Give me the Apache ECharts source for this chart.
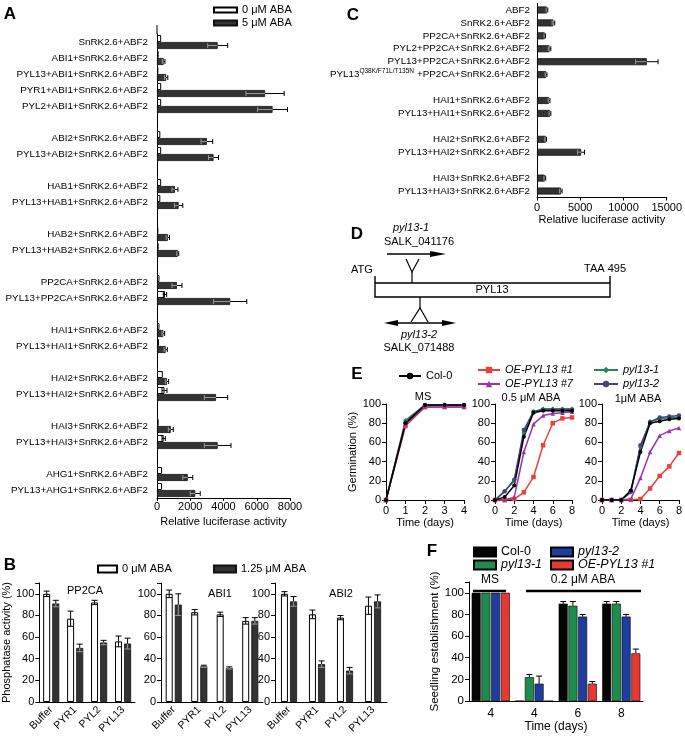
<!DOCTYPE html>
<html><head><meta charset="utf-8">
<script src="https://cdn.jsdelivr.net/npm/echarts@6/dist/echarts.min.js"></script>
<style>html,body{margin:0;padding:0;background:#fff}#c{width:685px;height:738px}</style>
</head><body><div id="c"></div>
<script>
const FONT = 'Liberation Sans, Arial, Helvetica, sans-serif';

// ---------- Panel A ----------
const aCats = ['SnRK2.6+ABF2','ABI1+SnRK2.6+ABF2','PYL13+ABI1+SnRK2.6+ABF2','PYR1+ABI1+SnRK2.6+ABF2','PYL2+ABI1+SnRK2.6+ABF2','',
  'ABI2+SnRK2.6+ABF2','PYL13+ABI2+SnRK2.6+ABF2','',
  'HAB1+SnRK2.6+ABF2','PYL13+HAB1+SnRK2.6+ABF2','',
  'HAB2+SnRK2.6+ABF2','PYL13+HAB2+SnRK2.6+ABF2','',
  'PP2CA+SnRK2.6+ABF2','PYL13+PP2CA+SnRK2.6+ABF2','',
  'HAI1+SnRK2.6+ABF2','PYL13+HAI1+SnRK2.6+ABF2','',
  'HAI2+SnRK2.6+ABF2','PYL13+HAI2+SnRK2.6+ABF2','',
  'HAI3+SnRK2.6+ABF2','PYL13+HAI3+SnRK2.6+ABF2','',
  'AHG1+SnRK2.6+ABF2','PYL13+AHG1+SnRK2.6+ABF2'];
const aWhite    = [250,100,80,250,250,null,200,250,null,250,200,null,80,100,null,150,480,null,150,120,null,350,450,null,100,400,null,300,300];
const aWhiteErr = [0,0,0,0,0,null,0,0,null,0,0,null,0,0,null,0,100,null,0,0,null,0,150,null,0,100,null,0,0];
const aDark     = [3650,400,550,6500,6950,null,3000,3400,null,1080,1300,null,650,1250,null,1200,4400,null,380,520,null,600,3550,null,830,3650,null,1850,2300];
const aDarkErr  = [600,80,100,1150,900,null,350,300,null,180,250,null,100,60,null,300,1000,null,80,100,null,100,700,null,150,800,null,300,300];
const aTicks = [0,2000,4000,6000,8000];

// ---------- Panel C ----------
const cCats = ['ABF2','SnRK2.6+ABF2','PP2CA+SnRK2.6+ABF2','PYL2+PP2CA+SnRK2.6+ABF2','PYL13+PP2CA+SnRK2.6+ABF2',
  'PYL13|Q38K/F71L/T135N|+PP2CA+SnRK2.6+ABF2','',
  'HAI1+SnRK2.6+ABF2','PYL13+HAI1+SnRK2.6+ABF2','',
  'HAI2+SnRK2.6+ABF2','PYL13+HAI2+SnRK2.6+ABF2','',
  'HAI3+SnRK2.6+ABF2','PYL13+HAI3+SnRK2.6+ABF2'];
const cVals = [1150,1900,900,1450,12700,1050,null,1400,1500,null,1000,5100,null,900,2750];
const cErr  = [100,150,80,150,1300,100,null,100,100,null,100,400,null,100,150];
const cTicks = [0,5000,10000,15000];

// ---------- Panel B ----------
const bCats = ['Buffer','PYR1','PYL2','PYL13'];
const bTitles = ['PP2CA','ABI1','ABI2'];
const bPP2CA0 = [100,77,92,56],  bPP2CA0Err = [2.5,7,2,5];
const bPP2CA1 = [91,50,55,54],   bPP2CA1Err = [3,3.5,2,5];
const bABI10  = [100,83,81,75],  bABI10Err  = [3.5,2.5,2,3];
const bABI11  = [90,33,31.5,75], bABI11Err  = [10,1,1,3];
const bABI20  = [100,81,78,89],  bABI20Err  = [2,4,2,8];
const bABI21  = [93,35,29,93],   bABI21Err  = [4.5,3,3,6];

// ---------- Panel E ----------
const eDaysMS = [0,1,2,3,4];
const eDaysABA = [0,1,2,3,4,5,6,7,8];
const eNames = ['OE-PYL13 #1','OE-PYL13 #7','pyl13-1','pyl13-2','Col-0'];
const eMS  = { 'Col-0':[0,80,99,99,99], 'OE-PYL13 #1':[0,77,97,97,97], 'OE-PYL13 #7':[0,79,97,97,97], 'pyl13-1':[0,83,99,99,99], 'pyl13-2':[0,81,99,99,99] };
const eA05 = { 'Col-0':[0,3,15,66,91,93,93,93,93], 'OE-PYL13 #1':[0,0,1,8,24,57,80,85,86], 'OE-PYL13 #7':[0,0,3,50,79,88,90,91,92], 'pyl13-1':[0,9,20,70,92,95,95,95,95], 'pyl13-2':[0,9,21,73,92,94,94,94,94] };
const eA1  = { 'Col-0':[0,0,0,10,50,80,82,84,85], 'OE-PYL13 #1':[0,0,0,0,1,12,25,35,49], 'OE-PYL13 #7':[0,0,0,1,23,50,67,72,75], 'pyl13-1':[0,0,0,8,55,82,84,86,86], 'pyl13-2':[0,0,0,9,57,81,86,87,88] };

// ---------- Panel F ----------
const fGroups = ['MS 4','ABA 4','ABA 6','ABA 8'];
const fTickLabels = ['4','4','6','8'];
const fNames = ['Col-0','pyl13-1','pyl13-2','OE-PYL13 #1'];
const fVals = { 'Col-0':[100,0,90,90], 'pyl13-1':[100,22,88,90], 'pyl13-2':[100,16,78,78], 'OE-PYL13 #1':[100,0,16,44] };
const fErrs = { 'Col-0':[0,0,2,2], 'pyl13-1':[0,2.5,4,2], 'pyl13-2':[0,7,2,2], 'OE-PYL13 #1':[0,0,2,4] };

// ================= styles =================
const eStyle = {
  'Col-0':       {color:'#000000', symbol:'circle',   size:4},
  'OE-PYL13 #1': {color:'#e8413c', symbol:'rect',     size:4.5},
  'OE-PYL13 #7': {color:'#9a32ad', symbol:'triangle', size:4.5},
  'pyl13-1':     {color:'#1f8a52', symbol:'diamond',  size:4.5},
  'pyl13-2':     {color:'#44457e', symbol:'circle',   size:4.5}
};
const fColor = {'Col-0':'#050505','pyl13-1':'#1e8c4e','pyl13-2':'#1f3d9c','OE-PYL13 #1':'#e53a33'};

const axLine = {lineStyle:{color:'#000', width:1}};
const axTick = {lineStyle:{color:'#000', width:1}};
const plain = v => String(v);
function lab(extra){ return Object.assign({color:'#000', fontFamily:FONT, fontSize:10.5}, extra||{}); }

function L(x1,y1,x2,y2,col,w){ return {type:'line', shape:{x1,y1,x2,y2}, style:{stroke:col, lineWidth:w||1}}; }
function errH(off, inner){
  return function(params, api){
    const cat = api.value(0), v = api.value(1), e = api.value(2);
    if (!e) return;
    const lo = api.coord([v-e, cat]), mid = api.coord([v, cat]), hi = api.coord([v+e, cat]);
    const y = mid[1] + off, c = 2.5;
    return {type:'group', children:[L(lo[0],y,mid[0],y,inner), L(mid[0],y,hi[0],y,'#000'), L(lo[0],y-c,lo[0],y+c,inner), L(hi[0],y-c,hi[0],y+c,'#000')]};
  };
}
function errV(off, inner, cap){
  return function(params, api){
    const cat = api.value(0), v = api.value(1), e = api.value(2);
    if (!e) return;
    const lo = api.coord([cat, v-e]), mid = api.coord([cat, v]), hi = api.coord([cat, v+e]);
    const x = mid[0] + off, c = cap || 2.5;
    return {type:'group', children:[L(x,lo[1],x,mid[1],inner), L(x,mid[1],x,hi[1],'#000'), L(x-c,lo[1],x+c,lo[1],inner), L(x-c,hi[1],x+c,hi[1],'#000')]};
  };
}
function errData(vals, errs){ return vals.map((v,i)=> v==null ? null : [i, v, errs[i]]).filter(d=>d); }

const grids = [], xAxes = [], yAxes = [], series = [];

// ---- A (index 0)
grids.push({left:157, top:34, width:133, height:464});
xAxes.push({gridIndex:0, type:'value', min:aTicks[0], max:aTicks[aTicks.length-1], interval:2000,
  axisLine:Object.assign({show:true},axLine), axisTick:Object.assign({show:true,length:3},axTick), splitLine:{show:false},
  axisLabel:lab({fontSize:11, margin:3, formatter:plain}),
  name:'Relative luciferase activity', nameLocation:'middle', nameGap:17, nameTextStyle:{fontFamily:FONT, fontSize:11, color:'#000'}});
yAxes.push({gridIndex:0, type:'category', data:aCats, inverse:true,
  axisLine:axLine, axisTick:Object.assign({alignWithLabel:true, length:5}, axTick), axisLabel:lab({fontSize:9.8, margin:9, interval:0})});
series.push({name:'A|0 μM ABA', type:'bar', xAxisIndex:0, yAxisIndex:0, data:aWhite, barWidth:7, barGap:'0%',
  itemStyle:{color:'#fff', borderColor:'#000', borderWidth:1}});
series.push({name:'A|5 μM ABA', type:'bar', xAxisIndex:0, yAxisIndex:0, data:aDark, barWidth:7, barGap:'0%',
  itemStyle:{color:'#333', borderColor:'#111', borderWidth:0.8}});
series.push({type:'custom', xAxisIndex:0, yAxisIndex:0, encode:{x:1, y:0}, data:errData(aWhite,aWhiteErr), renderItem:errH(-3.5,'#000'), z:5});
series.push({type:'custom', xAxisIndex:0, yAxisIndex:0, encode:{x:1, y:0}, data:errData(aDark,aDarkErr), renderItem:errH(3.5,'#999'), z:5});

// ---- C (index 1)
grids.push({left:537, top:3.5, width:131, height:194});
xAxes.push({gridIndex:1, type:'value', min:cTicks[0], max:cTicks[cTicks.length-1], interval:5000,
  axisLine:Object.assign({show:true},axLine), axisTick:Object.assign({show:true,length:3},axTick), splitLine:{show:false},
  axisLabel:lab({fontSize:11, margin:5, formatter:plain}),
  name:'Relative luciferase activity', nameLocation:'middle', nameGap:16, nameTextStyle:{fontFamily:FONT, fontSize:11, color:'#000'}});
yAxes.push({gridIndex:1, type:'category', data:cCats, inverse:true,
  axisLine:axLine, axisTick:Object.assign({alignWithLabel:true, length:4}, axTick),
  axisLabel:lab({fontSize:9.8, margin:7, interval:0, overflow:'none', width:400,
    formatter: v => { const p = v.split('|'); return p.length===3 ? '{n|'+p[0]+'}{s|'+p[1]+'}{n|'+p[2]+'}' : v; },
    rich:{ n:{fontSize:9.8, fontFamily:FONT, color:'#000'}, s:{fontSize:6.5, fontFamily:FONT, color:'#000', padding:[0,3,6,0]} } })});
series.push({name:'C|vals', type:'bar', xAxisIndex:1, yAxisIndex:1, data:cVals, barWidth:7,
  itemStyle:{color:'#333', borderColor:'#111', borderWidth:0.8}});
series.push({type:'custom', xAxisIndex:1, yAxisIndex:1, encode:{x:1, y:0}, data:errData(cVals,cErr), renderItem:errH(0,'#999'), z:5});

// ---- B (index 2,3,4)
const bLefts = [39, 161, 275], bWidths = [96, 102, 112];
const bData = [[bPP2CA0,bPP2CA0Err,bPP2CA1,bPP2CA1Err],[bABI10,bABI10Err,bABI11,bABI11Err],[bABI20,bABI20Err,bABI21,bABI21Err]];
for (let k=0;k<3;k++){
  const gi = 2+k;
  grids.push({left:bLefts[k], top:583, width:bWidths[k], height:119});
  xAxes.push({gridIndex:gi, type:'category', data:bCats, axisLine:axLine,
    axisTick:Object.assign({alignWithLabel:true, length:4}, axTick), axisLabel:lab({rotate:45, margin:6, interval:0})});
  yAxes.push(Object.assign({gridIndex:gi, type:'value', min:0, max:110, interval:20,
    axisLine:Object.assign({show:true},axLine), axisTick:Object.assign({show:true,length:4},axTick), splitLine:{show:false},
    axisLabel:lab({fontSize:11, margin:5, formatter: v => v>100 ? '' : String(v)})},
    k===0 ? {name:'Phosphatase activity (%)', nameLocation:'middle', nameGap:21, nameTextStyle:{fontFamily:FONT, fontSize:11, color:'#000'}} : {}));
  const [w, we, d, de] = bData[k];
  series.push({name:'B|0 μM ABA', type:'bar', xAxisIndex:gi, yAxisIndex:gi, data:w, barWidth:7, barGap:'30%',
    itemStyle:{color:'#fff', borderColor:'#000', borderWidth:1}});
  series.push({name:'B|1.25 μM ABA', type:'bar', xAxisIndex:gi, yAxisIndex:gi, data:d, barWidth:7, barGap:'30%',
    itemStyle:{color:'#333', borderColor:'#111', borderWidth:0.8}});
  series.push({type:'custom', xAxisIndex:gi, yAxisIndex:gi, encode:{x:0,y:1}, data:errData(w,we), renderItem:errV(-4.55,'#000',3), z:5});
  series.push({type:'custom', xAxisIndex:gi, yAxisIndex:gi, encode:{x:0,y:1}, data:errData(d,de), renderItem:errV(4.55,'#999',3), z:5});
}

// ---- E (index 5,6,7)
const eSets = [[eDaysMS, eMS, 4, 1], [eDaysABA, eA05, 8, 2], [eDaysABA, eA1, 8, 2]];
const eLefts = [386, 495, 602], eWidths = [78, 77, 78];
for (let k=0;k<3;k++){
  const gi = 5+k;
  const [days, set, xmax, xint] = eSets[k];
  grids.push({left:eLefts[k], top:404, width:eWidths[k], height:96});
  xAxes.push({gridIndex:gi, type:'value', min:0, max:xmax, interval:xint,
    axisLine:Object.assign({show:true},axLine), axisTick:Object.assign({show:true,length:4},axTick), splitLine:{show:false},
    axisLabel:lab({fontSize:11, margin:5}),
    name:'Time (days)', nameLocation:'middle', nameGap:17, nameTextStyle:{fontFamily:FONT, fontSize:11, color:'#000'}});
  yAxes.push(Object.assign({gridIndex:gi, type:'value', min:0, max:100, interval:20,
    axisLine:Object.assign({show:true},axLine), axisTick:Object.assign({show:true,length:4},axTick), splitLine:{show:false},
    axisLabel:lab({fontSize:11, margin:5})},
    k===0 ? {name:'Germination (%)', nameLocation:'middle', nameGap:26, nameTextStyle:{fontFamily:FONT, fontSize:11, color:'#000'}} : {}));
  eNames.forEach(n => {
    const st = eStyle[n];
    series.push({name:'E|'+n, type:'line', xAxisIndex:gi, yAxisIndex:gi, data:days.map((d,i)=>[d, set[n][i]]),
      symbol:st.symbol, symbolSize:st.size, color:st.color, lineStyle:{color:st.color, width:1.5},
      itemStyle:{color:st.color}});
  });
}

// ---- F (index 8)
grids.push({left:469, top:582, width:174, height:119});
xAxes.push({gridIndex:8, type:'category', data:fGroups, axisLine:axLine, axisTick:{show:false},
  axisLabel:lab({fontSize:12, margin:7, interval:0, formatter:(v,i)=>fTickLabels[i]}),
  name:'Time (days)', nameLocation:'middle', nameGap:20, nameTextStyle:{fontFamily:FONT, fontSize:12, color:'#000'}});
yAxes.push({gridIndex:8, type:'value', min:0, max:110, interval:20,
  axisLine:Object.assign({show:true},axLine), axisTick:Object.assign({show:true,length:4},axTick), splitLine:{show:false},
  axisLabel:lab({fontSize:11.5, margin:5, formatter: v => v>100 ? '' : String(v)}),
  name:'Seedling establishment (%)', nameLocation:'middle', nameGap:24, nameTextStyle:{fontFamily:FONT, fontSize:11.5, color:'#000'}});
const fOff = [-14.58, -4.86, 4.86, 14.58];
fNames.forEach((n, j) => {
  series.push({name:'F|'+n, type:'bar', xAxisIndex:8, yAxisIndex:8, data:fVals[n], barWidth:9, barGap:'8%',
    itemStyle:{color:fColor[n], borderColor:'#000', borderWidth:0.6}});
});
fNames.forEach((n, j) => {
  series.push({type:'custom', xAxisIndex:8, yAxisIndex:8, encode:{x:0,y:1}, data:errData(fVals[n], fErrs[n]),
    renderItem:errV(fOff[j], fColor[n], 3), z:5});
});

// ================= legends =================
const fmt = n => n.split('|')[1];
const LT = (extra) => Object.assign({fontFamily:FONT, fontSize:11, color:'#000'}, extra||{});
const legends = [
  {data:['A|0 μM ABA','A|5 μM ABA'], orient:'vertical', left:213, top:3.5, icon:'rect', itemWidth:23, itemHeight:5, itemGap:0, itemTextGap:8,
   formatter:fmt, textStyle:LT({lineHeight:13})},
  {data:['B|0 μM ABA'], left:97, top:563.5, icon:'rect', itemWidth:19, itemHeight:7, itemTextGap:11, formatter:fmt, textStyle:LT()},
  {data:['B|1.25 μM ABA'], left:213, top:563.5, icon:'rect', itemWidth:22, itemHeight:7, itemTextGap:9, formatter:fmt, textStyle:LT()},
  {data:['E|Col-0'], left:398, top:369, itemWidth:22, itemHeight:8, itemTextGap:11, formatter:fmt, textStyle:LT({lineHeight:14})},
  {data:['E|OE-PYL13 #1','E|OE-PYL13 #7'], orient:'vertical', left:477, top:363, itemWidth:22, itemHeight:8, itemGap:0, itemTextGap:10,
   formatter:fmt, textStyle:LT({fontStyle:'italic', lineHeight:14})},
  {data:['E|pyl13-1','E|pyl13-2'], orient:'vertical', left:593, top:363, itemWidth:24, itemHeight:8, itemGap:0, itemTextGap:10,
   formatter:fmt, textStyle:LT({fontStyle:'italic', lineHeight:14})},
  {data:['F|Col-0', {name:'F|pyl13-1', textStyle:{fontStyle:'italic'}}], orient:'vertical', left:473, top:545.5, icon:'rect', itemWidth:22, itemHeight:9, itemGap:0, itemTextGap:11,
   formatter:fmt, textStyle:LT({fontSize:12.5, lineHeight:12.5})},
  {data:[{name:'F|pyl13-2', textStyle:{fontStyle:'italic'}}, {name:'F|OE-PYL13 #1', textStyle:{fontStyle:'italic'}}], orient:'vertical', left:550, top:545.5, icon:'rect', itemWidth:22, itemHeight:9, itemGap:0, itemTextGap:9,
   formatter:fmt, textStyle:LT({fontSize:12.5, lineHeight:12.5})}
].map(l => Object.assign({padding:0, selectedMode:false}, l));

// ================= graphics =================
function T(x, y, text, o){
  o = o || {};
  return {type:'text', x:x, y:y, z:10, style:{text:text, fill:'#000', fontFamily:FONT, fontSize:o.size||11,
    fontWeight:o.weight||'normal', fontStyle:o.style||'normal', align:o.align||'center', verticalAlign:'middle'}};
}
function G(x1,y1,x2,y2,w){ return {type:'line', z:10, shape:{x1,y1,x2,y2}, style:{stroke:'#000', lineWidth:w||1.2}}; }
const graphics = [
  T(10,14,'A',{size:17,weight:'bold'}), T(10,565,'B',{size:17,weight:'bold'}), T(353,15,'C',{size:17,weight:'bold'}),
  T(357,234,'D',{size:17,weight:'bold'}), T(357,374,'E',{size:17,weight:'bold'}), T(432,551,'F',{size:17,weight:'bold'}),
  // axis extension above first category of A (as in reference)
  G(157,25,157,34,1),
  // B titles
  T(85,591,bTitles[0]), T(220,594,bTitles[1]), T(341,594,bTitles[2]),
  // E titles
  T(423,397,'MS'), T(531,398,'0.5 μM ABA'), T(638,399,'1μM ABA'),
  // F annotations
  T(490,580,'MS',{size:12}), G(473,591,506,591,2.5),
  T(583,580,'0.2 μM ABA',{size:12}), G(526,591,641,591,2.5),
  // D gene diagram
  T(411,228,'pyl13-1',{style:'italic'}), T(419,242,'SALK_041176'),
  G(387,254,437,254,1.3),
  {type:'polygon', z:10, shape:{points:[[430,251],[446,254],[430,257]]}, style:{fill:'#000'}},
  {type:'polyline', z:10, shape:{points:[[406,259],[412,272],[419,259]]}, style:{stroke:'#000', lineWidth:1.2, fill:null}},
  G(412,272,412,283,1.2),
  T(362,270,'ATG'), T(605,269,'TAA 495'),
  {type:'rect', z:10, shape:{x:375, y:283, width:235, height:14}, style:{stroke:'#000', lineWidth:1.4, fill:'#fff'}},
  G(375,276,375,283,1.4), G(610,276,610,283,1.4),
  T(492,290,'PYL13'),
  G(420,297,420,308,1.2),
  {type:'polyline', z:10, shape:{points:[[411,322],[420,308],[428,322]]}, style:{stroke:'#000', lineWidth:1.2, fill:null}},
  G(392,323,448,323,1.3),
  {type:'polygon', z:10, shape:{points:[[398,320],[384,323],[398,326]]}, style:{fill:'#000'}},
  {type:'polygon', z:10, shape:{points:[[442,320],[456,323],[442,326]]}, style:{fill:'#000'}},
  T(419,335,'pyl13-2',{style:'italic'}), T(419,348,'SALK_071488')
];

const chart = echarts.init(document.getElementById('c'), null, {renderer:'canvas'});
chart.setOption({
  animation:false,
  textStyle:{fontFamily:FONT},
  grid:grids, xAxis:xAxes, yAxis:yAxes, series:series, legend:legends, graphic:graphics
});
</script></body></html>
